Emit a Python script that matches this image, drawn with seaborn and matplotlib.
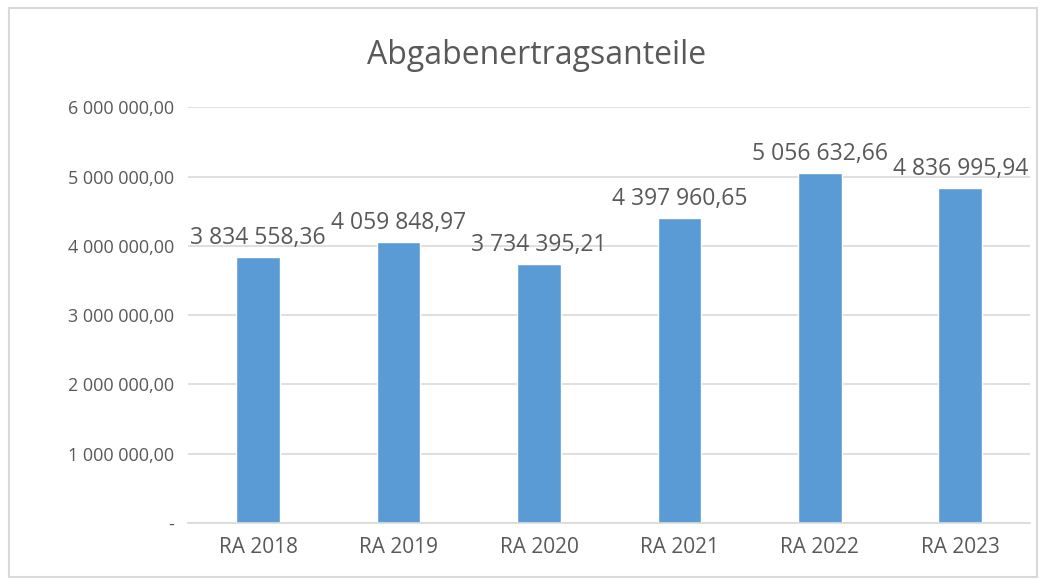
import matplotlib
matplotlib.use("Agg")
import matplotlib.pyplot as plt
import seaborn as sns
import pandas as pd
from matplotlib.patches import Rectangle

years = ["RA 2018", "RA 2019", "RA 2020", "RA 2021", "RA 2022", "RA 2023"]
values = [3834558.36, 4059848.97, 3734395.21, 4397960.65, 5056632.66, 4836995.94]
yticks = [0, 1000000, 2000000, 3000000, 4000000, 5000000, 6000000]


def fmt(v):
    if v == 0:
        return "-"
    s = f"{v:,.2f}"
    return s.replace(",", " ").replace(".", ",")


sns.set_style("white")
plt.rcParams["font.family"] = ["Open Sans", "DejaVu Sans"]

df = pd.DataFrame({"year": years, "value": values})
grey = "#595959"

fig = plt.figure(figsize=(10.44, 5.79), dpi=100)
ax = fig.add_axes([0.180, 0.0967, 0.807, 0.718])

sns.barplot(data=df, x="year", y="value", color="#5B9BD5", width=0.31,
            saturation=1, ax=ax)

ax.set_ylim(0, 6000000)
ax.set_yticks(yticks)
ax.set_yticklabels([fmt(v) for v in yticks], color=grey, fontsize=13)
ax.tick_params(axis="x", colors=grey, labelsize=15, length=0, pad=10)
ax.tick_params(axis="y", length=0, pad=10)
ax.yaxis.grid(True, color="#d9d9d9", linewidth=1.2)
ax.set_axisbelow(True)
for side in ["top", "right", "left"]:
    ax.spines[side].set_visible(False)
ax.spines["bottom"].set_color("#d9d9d9")
ax.spines["bottom"].set_linewidth(1.2)
ax.set_xlabel("")
ax.set_ylabel("")

for i, v in enumerate(values):
    ax.annotate(fmt(v), (i, v), xytext=(0, 5), textcoords="offset points",
                ha="center", va="bottom", color=grey, fontsize=16.5)

fig.text(0.514, 0.905, "Abgabenertragsanteile", ha="center", va="center",
         color=grey, fontsize=23)

fig.patches.append(Rectangle((0.009, 0.003), 0.984, 0.983, transform=fig.transFigure,
                             fill=False, edgecolor="#d9d9d9", linewidth=1.5))

fig.savefig("out.png", dpi=100)
